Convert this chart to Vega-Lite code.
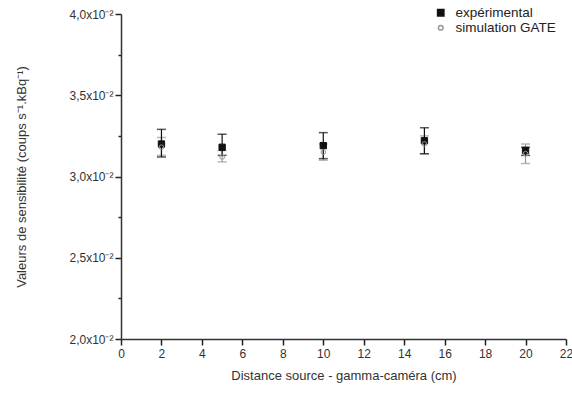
{
  "$schema": "https://vega.github.io/schema/vega-lite/v6.json",
  "width": 445,
  "height": 325,
  "autosize": "none",
  "padding": {"left": 121, "top": 14, "right": 6, "bottom": 55},
  "background": "white",
  "config": {
    "view": {"stroke": null},
    "font": "Liberation Sans",
    "axis": {"labelFont": "Liberation Sans", "titleFont": "Liberation Sans", "labelColor": "#333", "titleColor": "#333", "titleFontWeight": "normal", "labelFontSize": 12, "titleFontSize": 13, "domainColor": "#333", "grid": false}
  },
  "data": {
    "values": [
      {"x": 2, "series": "expérimental", "v": 0.0320, "lo": 0.0312, "hi": 0.0329},
      {"x": 5, "series": "expérimental", "v": 0.0318, "lo": 0.0313, "hi": 0.0326},
      {"x": 10, "series": "expérimental", "v": 0.0319, "lo": 0.0311, "hi": 0.0327},
      {"x": 15, "series": "expérimental", "v": 0.0322, "lo": 0.0314, "hi": 0.0330},
      {"x": 20, "series": "expérimental", "v": 0.0316, "lo": 0.0313, "hi": 0.0318},
      {"x": 2, "series": "simulation GATE", "v": 0.0318, "lo": 0.0313, "hi": 0.0324},
      {"x": 5, "series": "simulation GATE", "v": 0.0312, "lo": 0.0309, "hi": 0.0316},
      {"x": 10, "series": "simulation GATE", "v": 0.0315, "lo": 0.0310, "hi": 0.0320},
      {"x": 15, "series": "simulation GATE", "v": 0.0320, "lo": 0.0314, "hi": 0.0325},
      {"x": 20, "series": "simulation GATE", "v": 0.0314, "lo": 0.0308, "hi": 0.0320}
    ]
  },
  "layer": [
    {
      "transform": [{"filter": "datum.series === 'simulation GATE'"}],
      "mark": {"type": "rule", "strokeWidth": 1.2, "color": "#999"},
      "encoding": {
        "x": {"field": "x", "type": "quantitative", "scale": {"domain": [0, 22], "nice": false},
          "axis": {"values": [0,1,2,3,4,5,6,7,8,9,10,11,12,13,14,15,16,17,18,19,20,21,22],
            "ticks": true, "tickColor": "#222", "tickOpacity": 1, "tickWidth": 1.5,
            "tickSize": {"condition": {"test": "datum.value % 2 === 0", "value": 6}, "value": 3},
            "labelExpr": "datum.value % 2 === 0 ? datum.label : ''",
            "labelPadding": 3, "title": "Distance source - gamma-caméra (cm)", "titlePadding": 10, "labelFlush": false, "domainWidth": 1.5}},
        "y": {"field": "lo", "type": "quantitative", "scale": {"domain": [0.02, 0.04], "nice": false, "zero": false},
          "axis": {"values": [0.02, 0.0225, 0.025, 0.0275, 0.03, 0.0325, 0.035, 0.0375, 0.04],
            "ticks": true, "tickColor": "#222", "tickOpacity": 1, "tickWidth": 1.5,
            "tickSize": {"condition": {"test": "round(datum.value*400) % 2 === 0", "value": 6}, "value": 3},
            "labelExpr": "round(datum.value*400) % 2 === 0 ? replace(format(datum.value*100,'.1f'),'.',',') + 'x10⁻²' : ''",
            "title": "Valeurs de sensibilité (coups s⁻¹.kBq⁻¹)", "titlePadding": 40, "domainWidth": 1.5, "labelFlush": false}},
        "y2": {"field": "hi"}
      }
    },
    {
      "transform": [{"filter": "datum.series === 'simulation GATE'"}],
      "mark": {"type": "tick", "thickness": 1.5, "size": 9, "orient": "horizontal", "color": "#999"},
      "encoding": {
        "x": {"field": "x", "type": "quantitative"},
        "y": {"field": "hi", "type": "quantitative"}
      }
    },
    {
      "transform": [{"filter": "datum.series === 'simulation GATE'"}],
      "mark": {"type": "tick", "thickness": 1.5, "size": 9, "orient": "horizontal", "color": "#999"},
      "encoding": {
        "x": {"field": "x", "type": "quantitative"},
        "y": {"field": "lo", "type": "quantitative"}
      }
    },
    {
      "transform": [{"filter": "datum.series === 'expérimental'"}],
      "mark": {"type": "rule", "strokeWidth": 1.2, "color": "#111"},
      "encoding": {
        "x": {"field": "x", "type": "quantitative"},
        "y": {"field": "lo", "type": "quantitative"},
        "y2": {"field": "hi"}
      }
    },
    {
      "transform": [{"filter": "datum.series === 'expérimental'"}],
      "mark": {"type": "tick", "thickness": 1.5, "size": 9, "orient": "horizontal", "color": "#111"},
      "encoding": {
        "x": {"field": "x", "type": "quantitative"},
        "y": {"field": "hi", "type": "quantitative"}
      }
    },
    {
      "transform": [{"filter": "datum.series === 'expérimental'"}],
      "mark": {"type": "tick", "thickness": 1.5, "size": 9, "orient": "horizontal", "color": "#111"},
      "encoding": {
        "x": {"field": "x", "type": "quantitative"},
        "y": {"field": "lo", "type": "quantitative"}
      }
    },
    {
      "mark": {"type": "point", "strokeWidth": 1, "opacity": 1},
      "encoding": {
        "x": {"field": "x", "type": "quantitative"},
        "y": {"field": "v", "type": "quantitative"},
        "shape": {"field": "series", "type": "nominal", "scale": {"domain": ["expérimental", "simulation GATE"], "range": ["square", "circle"]},
          "legend": {"title": null, "orient": "none", "legendX": 313, "legendY": -8, "labelFontSize": 13.5, "labelColor": "#222", "labelFont": "Liberation Sans", "rowPadding": 0, "labelOffset": 8}},
        "fill": {"field": "series", "type": "nominal", "scale": {"domain": ["expérimental", "simulation GATE"], "range": ["#111", "transparent"]}},
        "stroke": {"field": "series", "type": "nominal", "scale": {"domain": ["expérimental", "simulation GATE"], "range": ["#111", "#999"]}},
        "size": {"field": "series", "type": "nominal", "scale": {"domain": ["expérimental", "simulation GATE"], "range": [40, 22]}}
      }
    }
  ]
}
